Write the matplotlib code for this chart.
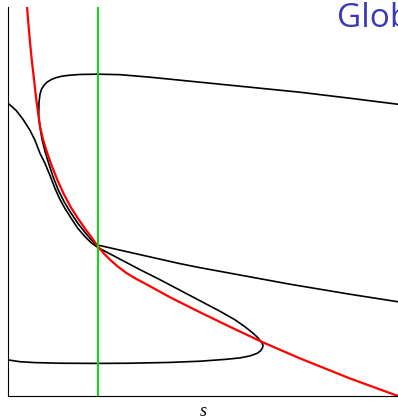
import matplotlib
matplotlib.use("Agg")
import matplotlib.pyplot as plt

# Values (s along x, u along y)
red_s = [18.5, 20, 22, 24, 26, 28, 30, 32, 35, 39, 44, 50, 56, 63, 70, 77, 83, 90,
         96, 102, 110, 118, 127, 142, 162, 192, 222, 255, 292, 342, 390]
red_u = [396, 376, 353, 333, 316, 298, 283, 269, 256, 243, 229, 214, 201, 188, 177, 167, 159, 149,
         142, 136, 129, 123, 117.5, 109.5, 98.5, 83.5, 69, 53.5, 37.5, 17.5, 0]

left_s = [0, 8, 15, 22, 27, 32, 37, 42, 47, 52, 57, 64, 70, 77, 83, 90]
left_u = [292, 285, 276, 265, 255, 242, 232, 220, 207, 196, 187, 176, 167, 159, 153, 148]

upper_s = [390, 342, 292, 242, 192, 142, 112, 90, 72, 62, 54, 48, 43, 39, 36, 33.5, 32, 31,
           30.7, 32, 34, 37, 41, 45, 50, 56, 62, 70, 78, 84, 90]
upper_u = [291, 297, 303, 308, 313, 318, 320.5, 321, 320.7, 320, 319, 317.5, 315.5, 313, 310, 306, 301, 293,
           279, 268, 256, 244, 231, 219, 206, 194, 184, 172, 162, 155, 149]

middle_s = [90, 112, 132, 152, 172, 192, 222, 252, 282, 312, 342, 390]
middle_u = [150.5, 145.5, 141, 136.5, 132, 128, 122.5, 117, 111.5, 106.5, 101.5, 94]

loop_s = [90, 112, 132, 152, 172, 192, 212, 227, 237, 244, 249, 252, 254, 255, 254.5, 252.5, 249,
          242, 232, 217, 192, 162, 122, 90, 52, 27, 12, 0]
loop_u = [148, 136.5, 126, 116, 105.5, 95, 84.5, 76, 69, 63.5, 59, 55.5, 53, 50.5, 48, 45, 42.5,
          40, 38, 36.5, 34.7, 33.5, 32.7, 32.5, 32.7, 33.3, 34.2, 36]

s_star = 90

fig = plt.figure(figsize=(3.98, 4.19), dpi=100)
ax = fig.add_axes([8/398, 23/419, 390/398, 389/419])
ax.set_xlim(0, 390)
ax.set_ylim(0, 388)

kw = dict(color="black", lw=1.2, solid_joinstyle="round")
ax.plot(left_s, left_u, **kw)
ax.plot(upper_s, upper_u, **kw)
ax.plot(middle_s, middle_u, **kw)
ax.plot(loop_s, loop_u, **kw)
ax.plot(red_s, red_u, color="red", lw=1.6, solid_joinstyle="round")
ax.axvline(s_star, color="#00e000", lw=1.4)

ax.spines["top"].set_visible(False)
ax.spines["right"].set_visible(False)
ax.set_xticks([])
ax.set_yticks([])
ax.set_xlabel("s", fontfamily="Liberation Serif", style="italic", fontsize=13, labelpad=5)

fig.text(337/398, 1 - 27/419, "Global", color="#3a3ab8", fontsize=24,
         fontfamily="Open Sans", ha="left", va="baseline")

fig.savefig("out.png", dpi=100)
